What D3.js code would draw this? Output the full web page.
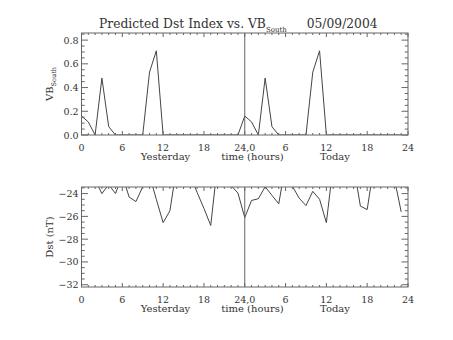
<!DOCTYPE html>
<html>
<head>
<meta charset="utf-8">
<script src="https://cdn.jsdelivr.net/npm/d3@7"></script>
<style>
  html, body { margin: 0; padding: 0; background: #fff; }
  svg { display: block; }
  text { font-family: "DejaVu Serif", serif; fill: #333; }
</style>
</head>
<body>
<svg id="chart" width="453" height="340"></svg>
<script>
// ---- data ----
const hours = [0,1,2,3,4,5,6,7,8,9,10,11,12,13,14,15,16,17,18,19,20,21,22,23,
               24,25,26,27,28,29,30,31,32,33,34,35,36,37,38,39,40,41,42,43,44,45,46,47];
const vbSouth = [0.16,0.11,0.00,0.48,0.07,0.00,0.00,0.00,0.00,0.00,0.53,0.71,
                 0.00,0.00,0.00,0.00,0.00,0.00,0.00,0.00,0.00,0.00,0.00,0.00,
                 0.16,0.11,0.00,0.48,0.07,0.00,0.00,0.00,0.00,0.00,0.53,0.71,
                 0.00,0.00,0.00,0.00,0.00,0.00,0.00,0.00,0.00,0.00,0.00,0.00];
const dst = [-22.6,-22.4,-22.8,-24.0,-23.2,-24.0,-22.4,-24.3,-24.7,-23.4,-22.4,-24.5,
             -26.55,-25.5,-21.6,-21.5,-22.4,-23.9,-25.3,-26.8,-21.4,-22.0,-23.3,-23.95,
             -26.1,-24.6,-24.45,-23.4,-24.15,-24.9,-21.4,-23.35,-24.4,-25.05,-23.8,-24.5,
             -26.55,-21.5,-22.0,-22.5,-21.5,-25.1,-25.4,-21.5,-22.0,-22.5,-22.7,-25.6];
const xTickValues = [0,6,12,18,24,30,36,42,48];
const xTickLabels = ["0","6","12","18","24,0","6","12","18","24"];
const vbTicks = [0.0,0.2,0.4,0.6,0.8];
const vbTickLabels = ["0.0","0.2","0.4","0.6","0.8"];
const dstTicks = [-32,-30,-28,-26,-24];
const dstTickLabels = ["\u221232","\u221230","\u221228","\u221226","\u221224"];

// ---- layout ----
const svg = d3.select("#chart");
const L = 81.5, R = 408;
const x = d3.scaleLinear().domain([0,48]).range([L,R]);
const yTop = d3.scaleLinear().domain([0,0.86]).range([135,33]);
const yBot = d3.scaleLinear().domain([-32.2,-23.42]).range([287,187]);

const axisColor = "#666";

function panel(y, data, majors, majorLabels, minorStep, id) {
  const [y0, y1] = y.domain();
  const top = y.range()[1], bot = y.range()[0];
  const g = svg.append("g");
  g.append("clipPath").attr("id", id).append("rect")
    .attr("x", L).attr("y", top).attr("width", R-L).attr("height", bot-top);
  // data line
  g.append("path").datum(hours.map((h,i)=>[h,data[i]]))
    .attr("clip-path", `url(#${id})`)
    .attr("fill","none").attr("stroke","#444").attr("stroke-width",1)
    .attr("d", d3.line().x(d=>x(d[0])).y(d=>y(d[1])));
  // vertical divider at 24
  g.append("line").attr("x1", x(24)).attr("x2", x(24)).attr("y1", top).attr("y2", bot)
    .attr("stroke","#666").attr("stroke-width",1);
  // box
  g.append("rect").attr("x", L).attr("y", top).attr("width", R-L).attr("height", bot-top)
    .attr("fill","none").attr("stroke",axisColor).attr("stroke-width",1);
  // x ticks (minor every hour, major every 6) bottom & top
  const xMinor = hours.concat([48]);
  xMinor.forEach(h => {
    const major = xTickValues.includes(h);
    const len = major ? 4 : 2;
    g.append("line").attr("x1", x(h)).attr("x2", x(h)).attr("y1", bot).attr("y2", bot-len)
      .attr("stroke",axisColor);
    g.append("line").attr("x1", x(h)).attr("x2", x(h)).attr("y1", top).attr("y2", top+len)
      .attr("stroke",axisColor);
  });
  // x labels
  xTickValues.forEach((v,i) => {
    g.append("text").attr("x", x(v)).attr("y", bot+15.5).attr("text-anchor","middle")
      .attr("font-size", 9.5).text(xTickLabels[i]);
  });
  // y minor ticks
  const minors = d3.range(Math.ceil(y0/minorStep)*minorStep, y1+1e-9, minorStep);
  minors.forEach(v => {
    const major = majors.some(m => Math.abs(m-v) < 1e-6);
    const len = major ? 6.5 : 3.2;
    g.append("line").attr("x1", L).attr("x2", L+len).attr("y1", y(v)).attr("y2", y(v))
      .attr("stroke",axisColor);
    g.append("line").attr("x1", R).attr("x2", R-len).attr("y1", y(v)).attr("y2", y(v))
      .attr("stroke",axisColor);
  });
  majors.forEach((v,i) => {
    g.append("text").attr("x", L-3).attr("y", y(v)+3.5).attr("text-anchor","end")
      .attr("font-size", 9.5).text(majorLabels[i]);
  });
  // bottom captions
  g.append("text").attr("x", 165.5).attr("y", bot+25).attr("text-anchor","middle")
    .attr("font-size", 10).text("Yesterday");
  g.append("text").attr("x", 252.5).attr("y", bot+25).attr("text-anchor","middle")
    .attr("font-size", 10).text("time (hours)");
  g.append("text").attr("x", 335).attr("y", bot+25).attr("text-anchor","middle")
    .attr("font-size", 10).text("Today");
  return g;
}

panel(yTop, vbSouth, vbTicks, vbTickLabels, 0.05, "clipTop");
panel(yBot, dst, dstTicks, dstTickLabels, 0.5, "clipBot");

// y axis titles
const t1 = svg.append("text").attr("transform","translate(53,84) rotate(-90)")
  .attr("text-anchor","middle").attr("font-size",10);
t1.append("tspan").text("VB");
t1.append("tspan").attr("font-size",6.5).attr("dy",3).text("South");

svg.append("text").attr("transform","translate(53,237) rotate(-90)")
  .attr("text-anchor","middle").attr("font-size",10).text("Dst (nT)");

// title
const title = svg.append("text").attr("x", 99).attr("y", 27.5).attr("font-size", 12.3);
title.append("tspan").text("Predicted Dst Index vs. VB");
title.append("tspan").attr("font-size", 7).attr("dy", 4).text("South");
title.append("tspan").attr("dy", -4).attr("x", 306.7).text("05/09/2004");
</script>
</body>
</html>
